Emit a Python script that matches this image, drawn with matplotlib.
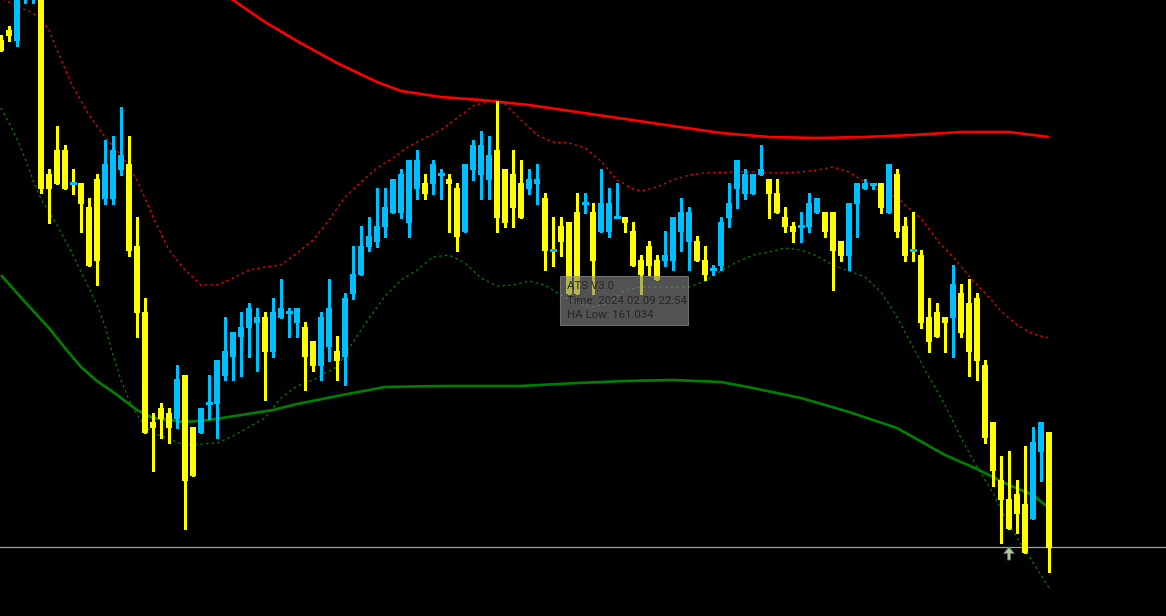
import matplotlib
matplotlib.use("Agg")
import matplotlib.pyplot as plt
from matplotlib.patches import Rectangle
import numpy as np

# ---------------- Heiken Ashi candles (price) ----------------
ha_open = [161.541, 161.551, 161.540, 161.583, 161.612, 161.631, 161.407, 161.431, 161.431, 161.398,
           161.398, 161.374, 161.402, 161.382, 161.382, 161.411, 161.417, 161.335, 161.269, 161.159,
           161.173, 161.168, 161.162, 161.206, 161.154, 161.148, 161.178, 161.177, 161.205, 161.224,
           161.244, 161.253, 161.258, 161.264, 161.229, 161.263, 161.269, 161.258, 161.254, 161.240,
           161.215, 161.234, 161.230, 161.224, 161.287, 161.306, 161.334, 161.339, 161.354, 161.368,
           161.368, 161.358, 161.392, 161.398, 161.397, 161.407, 161.402, 161.393, 161.349, 161.411,
           161.406, 161.401, 161.431, 161.412, 161.407, 161.398, 161.392, 161.397, 161.383, 161.331,
           161.355, 161.359, 161.369, 161.378, 161.369, 161.349, 161.349, 161.364, 161.364, 161.350,
           161.321, 161.335, 161.321, 161.320, 161.320, 161.349, 161.339, 161.340, 161.321, 161.312,
           161.315, 161.363, 161.392, 161.387, 161.387, 161.406, 161.402, 161.388, 161.364, 161.355,
           161.355, 161.354, 161.368, 161.369, 161.369, 161.340, 161.325, 161.377, 161.392, 161.397,
           161.398, 161.368, 161.407, 161.355, 161.331, 161.326, 161.264, 161.269, 161.264, 161.263,
           161.288, 161.278, 161.283, 161.216, 161.159, 161.101, 161.082, 161.087, 161.077, 161.062,
           161.129, 161.149]
ha_high = [161.546, 161.555, 161.631, 161.646, 161.656, 161.631, 161.412, 161.455, 161.436, 161.412,
           161.398, 161.383, 161.407, 161.441, 161.445, 161.474, 161.445, 161.364, 161.283, 161.168,
           161.178, 161.173, 161.216, 161.206, 161.154, 161.173, 161.206, 161.221, 161.264, 161.249,
           161.269, 161.278, 161.273, 161.269, 161.283, 161.302, 161.273, 161.273, 161.259, 161.240,
           161.269, 161.302, 161.245, 161.288, 161.335, 161.355, 161.364, 161.393, 161.393, 161.402,
           161.412, 161.421, 161.431, 161.407, 161.421, 161.412, 161.407, 161.398, 161.417, 161.441,
           161.450, 161.445, 161.480, 161.412, 161.431, 161.421, 161.412, 161.417, 161.388, 161.364,
           161.364, 161.359, 161.388, 161.388, 161.378, 161.412, 161.393, 161.398, 161.364, 161.359,
           161.326, 161.340, 161.326, 161.350, 161.364, 161.383, 161.374, 161.345, 161.335, 161.316,
           161.364, 161.398, 161.421, 161.412, 161.407, 161.436, 161.402, 161.402, 161.374, 161.359,
           161.369, 161.388, 161.383, 161.369, 161.369, 161.340, 161.378, 161.398, 161.402, 161.397,
           161.398, 161.417, 161.412, 161.364, 161.369, 161.331, 161.283, 161.278, 161.264, 161.316,
           161.297, 161.302, 161.288, 161.221, 161.159, 161.125, 161.130, 161.101, 161.135, 161.154,
           161.159, 161.149]
ha_low = [161.530, 161.540, 161.535, 161.578, 161.578, 161.388, 161.358, 161.397, 161.392, 161.387,
          161.349, 161.315, 161.296, 161.377, 161.377, 161.406, 161.325, 161.244, 161.148, 161.110,
          161.143, 161.138, 161.153, 161.052, 161.105, 161.148, 161.162, 161.143, 161.201, 161.201,
          161.205, 161.224, 161.210, 161.181, 161.224, 161.263, 161.244, 161.244, 161.191, 161.210,
          161.201, 161.220, 161.201, 161.196, 161.282, 161.306, 161.330, 161.334, 161.344, 161.368,
          161.363, 161.344, 161.382, 161.382, 161.387, 161.382, 161.349, 161.330, 161.349, 161.401,
          161.382, 161.382, 161.349, 161.354, 161.354, 161.363, 161.387, 161.377, 161.311, 161.315,
          161.325, 161.287, 161.287, 161.368, 161.287, 161.349, 161.344, 161.364, 161.349, 161.315,
          161.287, 161.306, 161.301, 161.315, 161.311, 161.330, 161.311, 161.320, 161.301, 161.306,
          161.311, 161.354, 161.373, 161.382, 161.387, 161.406, 161.363, 161.368, 161.349, 161.339,
          161.339, 161.349, 161.368, 161.344, 161.291, 161.320, 161.311, 161.344, 161.392, 161.392,
          161.368, 161.368, 161.344, 161.320, 161.320, 161.253, 161.229, 161.244, 161.229, 161.224,
          161.244, 161.205, 161.201, 161.138, 161.095, 161.038, 161.052, 161.048, 161.028, 161.062,
          161.100, 161.009]
ha_close = [161.530, 161.545, 161.626, 161.641, 161.651, 161.392, 161.392, 161.397, 161.392, 161.398,
            161.377, 161.315, 161.320, 161.417, 161.431, 161.426, 161.330, 161.268, 161.148, 161.153,
            161.162, 161.153, 161.202, 161.100, 161.105, 161.173, 161.178, 161.221, 161.230, 161.249,
            161.254, 161.273, 161.264, 161.229, 161.269, 161.273, 161.269, 161.273, 161.224, 161.215,
            161.264, 161.273, 161.220, 161.283, 161.307, 161.335, 161.345, 161.355, 161.374, 161.402,
            161.407, 161.421, 161.421, 161.387, 161.417, 161.407, 161.397, 161.344, 161.417, 161.436,
            161.436, 161.426, 161.363, 161.358, 161.373, 161.363, 161.402, 161.402, 161.330, 161.331,
            161.339, 161.287, 161.287, 161.378, 161.320, 161.378, 161.378, 161.364, 161.358, 161.315,
            161.306, 161.315, 161.301, 161.326, 161.364, 161.369, 161.369, 161.320, 161.306, 161.312,
            161.359, 161.378, 161.421, 161.407, 161.407, 161.412, 161.387, 161.368, 161.354, 161.349,
            161.355, 161.378, 161.383, 161.349, 161.330, 161.325, 161.378, 161.398, 161.398, 161.397,
            161.373, 161.417, 161.349, 161.325, 161.331, 161.258, 161.239, 161.244, 161.258, 161.297,
            161.248, 161.229, 161.220, 161.143, 161.110, 161.081, 161.052, 161.067, 161.028, 161.139,
            161.159, 161.033]
doji_bear_wick = [9, 69, 114]

# ---------------- indicator lines (bar index, price) ----------------
slow_upper_bar = [0, 10, 20, 29, 33, 37, 42, 47, 50, 55, 60, 66, 72, 78, 84, 90, 96, 102, 108,
                  114, 120, 126, 131]
slow_upper = [161.721, 161.666, 161.619, 161.581, 161.559, 161.540, 161.518, 161.499, 161.490,
              161.484, 161.481, 161.476, 161.469, 161.462, 161.455, 161.448, 161.444, 161.443,
              161.444, 161.446, 161.449, 161.449, 161.444]

slow_lower_bar = [0, 3, 6, 8, 10, 12, 14, 17, 19, 23, 26, 30, 34, 37, 42, 48, 55, 65, 72, 78, 84,
                  90, 94, 100, 106, 112, 118, 122, 126, 129, 131]
slow_lower = [161.306, 161.279, 161.253, 161.233, 161.214, 161.200, 161.189, 161.171, 161.163,
              161.159, 161.161, 161.166, 161.171, 161.177, 161.185, 161.194, 161.195, 161.195,
              161.198, 161.200, 161.201, 161.199, 161.193, 161.183, 161.169, 161.153, 161.126,
              161.112, 161.096, 161.086, 161.073]

band_upper_bar = [0, 2, 4, 5, 6, 7, 8, 9, 11, 13, 15, 17, 19, 21, 23, 25, 27, 29, 31, 33, 35, 37,
                  39, 41, 43, 45, 47, 49, 51, 53, 55, 57, 59, 61, 62, 63, 65, 67, 69, 71, 73, 75,
                  77, 79, 80, 82, 84, 86, 88, 91, 94, 97, 100, 102, 104, 106, 108, 110, 112, 113,
                  115, 117, 119, 121, 123, 125, 127, 129, 131]
band_upper = [161.583, 161.575, 161.568, 161.562, 161.551, 161.531, 161.512, 161.494, 161.466,
              161.444, 161.426, 161.401, 161.364, 161.331, 161.311, 161.296, 161.296, 161.303,
              161.311, 161.314, 161.316, 161.328, 161.341, 161.361, 161.384, 161.399, 161.413,
              161.423, 161.435, 161.443, 161.451, 161.463, 161.475, 161.480, 161.481, 161.477,
              161.461, 161.446, 161.439, 161.438, 161.433, 161.420, 161.401, 161.392, 161.390,
              161.394, 161.401, 161.406, 161.408, 161.409, 161.409, 161.408, 161.409, 161.411,
              161.414, 161.409, 161.399, 161.389, 161.384, 161.376, 161.363, 161.341, 161.324,
              161.305, 161.288, 161.270, 161.256, 161.247, 161.243]

band_lower_bar = [0, 1, 2, 3, 4, 5, 6, 7, 8, 9, 10, 11, 12, 13, 14, 15, 16, 17, 18, 19, 21, 23,
                  25, 27, 29, 31, 33, 35, 37, 39, 41, 42, 44, 46, 48, 50, 52, 54, 56, 58, 60, 62,
                  64, 66, 68, 70, 72, 74, 76, 78, 80, 84, 86, 88, 90, 92, 94, 96, 98, 100, 102,
                  104, 106, 108, 110, 112, 114, 116, 118, 120, 122, 124, 126, 128, 130, 131]
band_lower = [161.473, 161.458, 161.442, 161.423, 161.401, 161.382, 161.369, 161.356, 161.341,
              161.326, 161.309, 161.293, 161.276, 161.255, 161.226, 161.201, 161.181, 161.166,
              161.155, 161.148, 161.142, 161.136, 161.137, 161.138, 161.145, 161.154, 161.163,
              161.183, 161.195, 161.201, 161.210, 161.214, 161.239, 161.263, 161.285, 161.301,
              161.311, 161.324, 161.326, 161.318, 161.303, 161.295, 161.296, 161.300, 161.296,
              161.286, 161.278, 161.274, 161.278, 161.291, 161.294, 161.294, 161.294, 161.300,
              161.310, 161.319, 161.326, 161.329, 161.333, 161.331, 161.325, 161.316, 161.310,
              161.304, 161.289, 161.264, 161.234, 161.204, 161.176, 161.143, 161.114, 161.088,
              161.056, 161.031, 161.006, 160.993]

ha_low_level = 161.034
signal_bar = 126
tooltip_lines = ["ATS V3.0", "Time: 2024.02.09 22:54", "HA Low: 161.034"]

# ---------------- drawing ----------------
BLUE = "#00BFFF"
YELLOW = "#FFFF00"

W, H = 1166, 616
fig = plt.figure(figsize=(W / 100, H / 100), dpi=100, facecolor="black")
ax = fig.add_axes([0, 0, 1, 1])
ax.set_facecolor("black")
ax.set_xlim(-0.125, 145.625)
ax.set_ylim(160.965, 161.581)
ax.axis("off")

o = np.array(ha_open)
h = np.array(ha_high)
l = np.array(ha_low)
c = np.array(ha_close)
x = np.arange(len(o))
up = c > o
dn = c < o
dj = c == o

wick_cols = []
for i in range(len(o)):
    if dn[i] or (dj[i] and i in doji_bear_wick):
        wick_cols.append(YELLOW)
    else:
        wick_cols.append(BLUE)

# indicator lines
ax.plot(slow_upper_bar, slow_upper, color="#FF0000", lw=1.9, zorder=2, solid_capstyle="butt")
ax.plot(slow_lower_bar, slow_lower, color="#008000", lw=1.9, zorder=2, solid_capstyle="butt")
ax.plot(band_upper_bar, band_upper, color="#FF0000", lw=0.9, ls=(0, (2, 2.5)), zorder=2)
ax.plot(band_lower_bar, band_lower, color="#008000", lw=0.9, ls=(0, (2, 2.5)), zorder=2)

# HA low level
ax.axhline(ha_low_level, color="#A0A0A0", lw=0.9, zorder=1)

# candles
bw = 0.68
ax.vlines(x, l, h, colors=wick_cols, lw=0.8, zorder=3, antialiased=False)
ax.bar(x[up], (c - o)[up], bottom=o[up], width=bw, color=BLUE, lw=0, zorder=4, antialiased=False)
ax.bar(x[dn], (o - c)[dn], bottom=c[dn], width=bw, color=YELLOW, lw=0, zorder=4, antialiased=False)
ax.hlines(o[dj], x[dj] - bw / 2, x[dj] + bw / 2, colors=BLUE, lw=0.8, zorder=4, antialiased=False)

# signal arrow
ax.arrow(signal_bar, ha_low_level - 0.013, 0, 0.013, width=0.38, head_width=1.35,
         head_length=0.0065, length_includes_head=True, fc="#A8C8A0", ec="#5E6E58",
         lw=0.6, zorder=6)

# tooltip
box = Rectangle((560 / W, 1 - 325 / H), 128 / W, 49 / H, transform=fig.transFigure,
                fc="#858585", ec="#9A9A9A", lw=0.8, alpha=0.62, zorder=10)
ax.add_patch(box)
for j, t in enumerate(tooltip_lines):
    fig.text(567 / W, 1 - (286 + 14.5 * j) / H, t, color="#262626", fontsize=8.2,
             family="Roboto", va="center", ha="left", zorder=11)

fig.savefig("out.png", dpi=100, facecolor="black")
